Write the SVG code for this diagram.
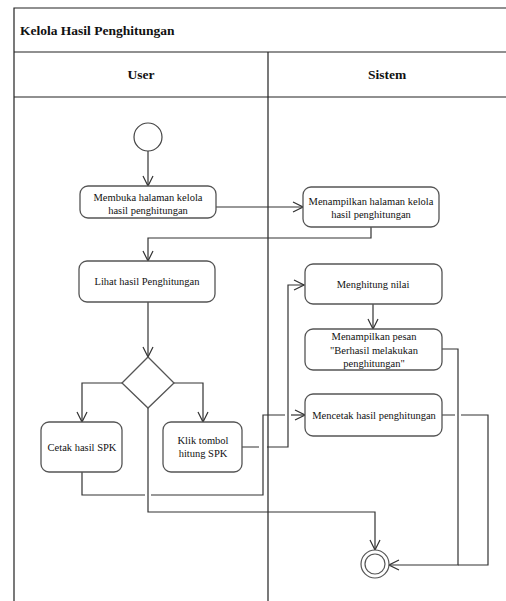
<svg xmlns="http://www.w3.org/2000/svg" width="506" height="601" viewBox="0 0 506 601">
<style>
.frame{fill:none;stroke:#222;stroke-width:1.2}
.node{fill:#fff;stroke:#555;stroke-width:1.3}
.edge{fill:none;stroke:#333;stroke-width:1.2}
.t{font-family:"Liberation Serif",serif;font-size:10.5px;fill:#111;text-anchor:middle}
.h{font-family:"Liberation Serif",serif;font-size:13.5px;font-weight:bold;fill:#111}
</style>
<defs>
<marker id="arr" viewBox="0 0 12 12" refX="11" refY="6" markerWidth="12" markerHeight="12" markerUnits="userSpaceOnUse" orient="auto">
<polyline points="1,1 11,6 1,11" fill="none" stroke="#333" stroke-width="1.2"/>
</marker>
</defs>
<rect width="506" height="601" fill="#fff"/>
<g id="frame">
<path class="frame" d="M14,601 L14,8 L506,8 M14,52 L506,52 M14,97 L506,97 M268,52 L268,601"/>
<text class="h" x="20" y="35" font-size="14">Kelola Hasil Penghitungan</text>
<text class="h" x="141" y="79" text-anchor="middle">User</text>
<text class="h" x="387" y="79" text-anchor="middle">Sistem</text>
</g>
<g id="connectors">
<path class="edge" d="M148,151 L148,186" marker-end="url(#arr)"/>
<path class="edge" d="M216,207 L303,207" marker-end="url(#arr)"/>
<path class="edge" d="M371,227 L371,238 L148,238 L148,261" marker-end="url(#arr)"/>
<path class="edge" d="M148,302 L148,357" marker-end="url(#arr)"/>
<path class="edge" d="M122,383 L82,383 L82,422" marker-end="url(#arr)"/>
<path class="edge" d="M174,383 L203,383 L203,422" marker-end="url(#arr)"/>
<path class="edge" d="M148,408 L148,512 L375,512 L375,550" marker-end="url(#arr)"/>
<path class="edge" d="M82,472 L82,495 L145,495 M151,495 L263,495 L263,415 L285,415"/>
<path class="edge" d="M291,415 L305,415" marker-end="url(#arr)"/>
<path class="edge" d="M242,447 L259,447 M267,447 L288,447 L288,285 L304,285" marker-end="url(#arr)"/>
<path class="edge" d="M373,304 L373,329" marker-end="url(#arr)"/>
<path class="edge" d="M442,349 L458,349 L458,565 L389,565" marker-end="url(#arr)"/>
<path class="edge" d="M442,415 L455,415 M461,415 L488,415 L488,565 L458,565"/>
</g>
<g id="start"><circle cx="148" cy="137" r="14" fill="#fff" stroke="#444" stroke-width="1.2"/></g>
<g id="membuka">
<rect class="node" x="80" y="186" width="136" height="32" rx="8"/>
<text class="t" x="148" y="201">Membuka halaman kelola</text>
<text class="t" x="148" y="214">hasil penghitungan</text>
</g>
<g id="menampilkan-halaman">
<rect class="node" x="303" y="187" width="136" height="40" rx="8"/>
<text class="t" x="371" y="205">Menampilkan halaman kelola</text>
<text class="t" x="371" y="218">hasil penghitungan</text>
</g>
<g id="lihat">
<rect class="node" x="79" y="261" width="136" height="41" rx="8"/>
<text class="t" x="147" y="285">Lihat hasil Penghitungan</text>
</g>
<g id="menghitung">
<rect class="node" x="305" y="264" width="137" height="40" rx="8"/>
<text class="t" x="373" y="288">Menghitung nilai</text>
</g>
<g id="decision">
<polygon points="148,357 174,383 148,408 122,383" fill="#fff" stroke="#555" stroke-width="1.3"/>
</g>
<g id="pesan">
<rect class="node" x="305" y="329" width="137" height="41" rx="8"/>
<text class="t" x="374" y="340">Menampilkan pesan</text>
<text class="t" x="374" y="354">"Berhasil melakukan</text>
<text class="t" x="374" y="367">penghitungan"</text>
</g>
<g id="mencetak">
<rect class="node" x="305" y="394" width="137" height="42" rx="8"/>
<text class="t" x="374" y="419">Mencetak hasil penghitungan</text>
</g>
<g id="cetak">
<rect class="node" x="41" y="422" width="81" height="50" rx="8"/>
<text class="t" x="82" y="451">Cetak hasil SPK</text>
</g>
<g id="klik">
<rect class="node" x="163" y="422" width="79" height="50" rx="8"/>
<text class="t" x="203" y="444">Klik tombol</text>
<text class="t" x="203" y="457">hitung SPK</text>
</g>
<g id="end">
<circle cx="375" cy="564" r="14" fill="#fff" stroke="#555" stroke-width="1.2"/>
<circle cx="375" cy="564" r="10" fill="none" stroke="#555" stroke-width="1.2"/>
</g>
</svg>
